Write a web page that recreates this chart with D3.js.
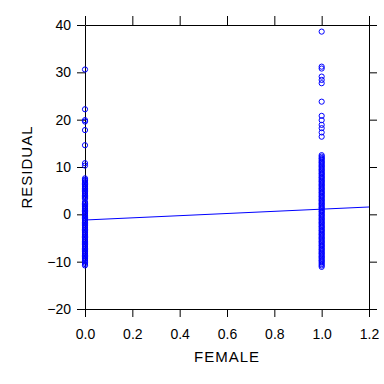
<!DOCTYPE html>
<html>
<head>
<meta charset="utf-8">
<script src="https://cdn.jsdelivr.net/npm/d3@7"></script>
<style>
  body { margin: 0; background: #fff; }
  svg { display: block; }
  .axis text { font-family: "Liberation Sans", Arial, sans-serif; font-size: 14px; fill: #000; }
  .axis path, .axis line { stroke: #000; }
</style>
</head>
<body>
<div id="chart"></div>
<script>
// residuals for FEMALE = 0
let male = [30.6, 22.2, 19.9, 19.6, 17.8, 14.6, 10.8, 10.3,
  7.6, 7.3, 7.1, 6.8, 6.5, 6.3, 6.0, 5.8, 5.5, 5.3, 5.0, 4.8, 4.5, 4.3, 4.0, 3.8,
  3.5, 3.3, 2.6, 2.3, 2.1, 1.8, 1.6, 1.3, 1.1, 0.8, 0.6, 0.3, 0.1, -0.2, -0.4,
  -0.7, -0.9, -1.2, -1.4, -1.7, -1.9, -2.2, -2.4, -2.7, -2.9, -3.2, -3.4, -3.7,
  -3.9, -4.2, -4.4, -4.7, -4.9, -5.2, -5.4, -5.7, -5.9, -6.2, -6.4, -6.7, -6.9,
  -7.2, -7.4, -7.7, -7.9, -8.2, -8.4, -8.7, -8.9, -9.2, -9.4, -9.7, -9.9, -10.2,
  -10.5, -10.8];
// residuals for FEMALE = 1
let female = [38.6, 31.2, 30.8, 29.1, 28.4, 27.7, 23.8, 20.8, 19.9, 18.9, 18.2, 17.3, 16.4,
  12.5, 12.2, 11.9, 11.7, 11.4, 11.1, 10.9, 10.6, 10.3, 10.1, 9.8, 9.5, 9.3, 9.0,
  8.7, 8.5, 8.2, 7.9, 7.7, 7.4, 7.1, 6.9, 6.6, 6.3, 6.1, 5.8, 5.5, 5.3, 5.0, 4.7,
  4.5, 4.2, 3.9, 3.7, 3.4, 3.1, 2.9, 2.6, 2.3, 2.1, 1.8, 1.5, 1.3, 1.0, 0.7, 0.5,
  0.2, -0.1, -0.3, -0.6, -0.9, -1.1, -1.4, -1.7, -1.9, -2.2, -2.5, -2.7, -3.0,
  -3.3, -3.5, -3.8, -4.1, -4.3, -4.6, -4.9, -5.1, -5.4, -5.7, -5.9, -6.2, -6.5,
  -6.7, -7.0, -7.3, -7.5, -7.8, -8.1, -8.3, -8.6, -8.9, -9.1, -9.4, -9.7, -9.9,
  -10.2, -10.5, -10.8, -11.1];
// fitted line end points
let fitX = [0, 1.2];
let fitY = [-1.2, 1.55];

let xTicks = [0, 0.2, 0.4, 0.6, 0.8, 1.0, 1.2];
let yTicks = [-20, -10, 0, 10, 20, 30, 40];

let w = 384;
let h = 384;
let padLeft = 85, padRight = 369, padTop = 25, padBottom = 309;

let points = male.map((v) => ({ x: 0, y: v }))
  .concat(female.map((v) => ({ x: 1, y: v })));

let xScale = d3.scaleLinear().domain([0, 1.2]).range([padLeft, padRight]);
let yScale = d3.scaleLinear().domain([-20, 40]).range([padBottom, padTop]);

let svg = d3.select("#chart")
  .append("svg")
  .attr("width", w)
  .attr("height", h);

// axes on all four sides
svg.append("g")
  .attr("class", "axis")
  .attr("transform", "translate(0," + padBottom + ")")
  .call(d3.axisBottom(xScale).tickValues(xTicks).tickFormat(d3.format(".1f"))
    .tickSize(8).tickSizeOuter(0).tickPadding(12));

svg.append("g")
  .attr("class", "axis")
  .attr("transform", "translate(0," + padTop + ")")
  .call(d3.axisTop(xScale).tickValues(xTicks).tickFormat("")
    .tickSize(9).tickSizeOuter(0));

svg.append("g")
  .attr("class", "axis")
  .attr("transform", "translate(" + padLeft + ",0)")
  .call(d3.axisLeft(yScale).tickValues(yTicks)
    .tickSize(8).tickSizeOuter(0).tickPadding(6));

svg.append("g")
  .attr("class", "axis")
  .attr("transform", "translate(" + padRight + ",0)")
  .call(d3.axisRight(yScale).tickValues(yTicks).tickFormat("")
    .tickSize(8).tickSizeOuter(0));

// points
svg.append("g")
  .selectAll("circle")
  .data(points)
  .enter()
  .append("circle")
  .attr("cx", (d) => xScale(d.x))
  .attr("cy", (d) => yScale(d.y))
  .attr("r", 2.6)
  .attr("fill", "none")
  .attr("stroke", "#0000ff")
  .attr("stroke-width", 1);

// fit line
svg.append("line")
  .attr("x1", xScale(fitX[0]))
  .attr("y1", yScale(fitY[0]))
  .attr("x2", xScale(fitX[1]))
  .attr("y2", yScale(fitY[1]))
  .attr("stroke", "#0000ff")
  .attr("stroke-width", 1);

// axis titles
svg.append("text")
  .attr("x", (padLeft + padRight) / 2)
  .attr("y", 362)
  .attr("text-anchor", "middle")
  .attr("font-family", "Liberation Sans, Arial, sans-serif")
  .attr("font-size", "15px")
  .attr("letter-spacing", "1px")
  .text("FEMALE");

svg.append("text")
  .attr("transform", "translate(32," + (padTop + padBottom) / 2 + ") rotate(-90)")
  .attr("text-anchor", "middle")
  .attr("font-family", "Liberation Sans, Arial, sans-serif")
  .attr("font-size", "15px")
  .attr("letter-spacing", "1px")
  .text("RESIDUAL");
</script>
</body>
</html>
